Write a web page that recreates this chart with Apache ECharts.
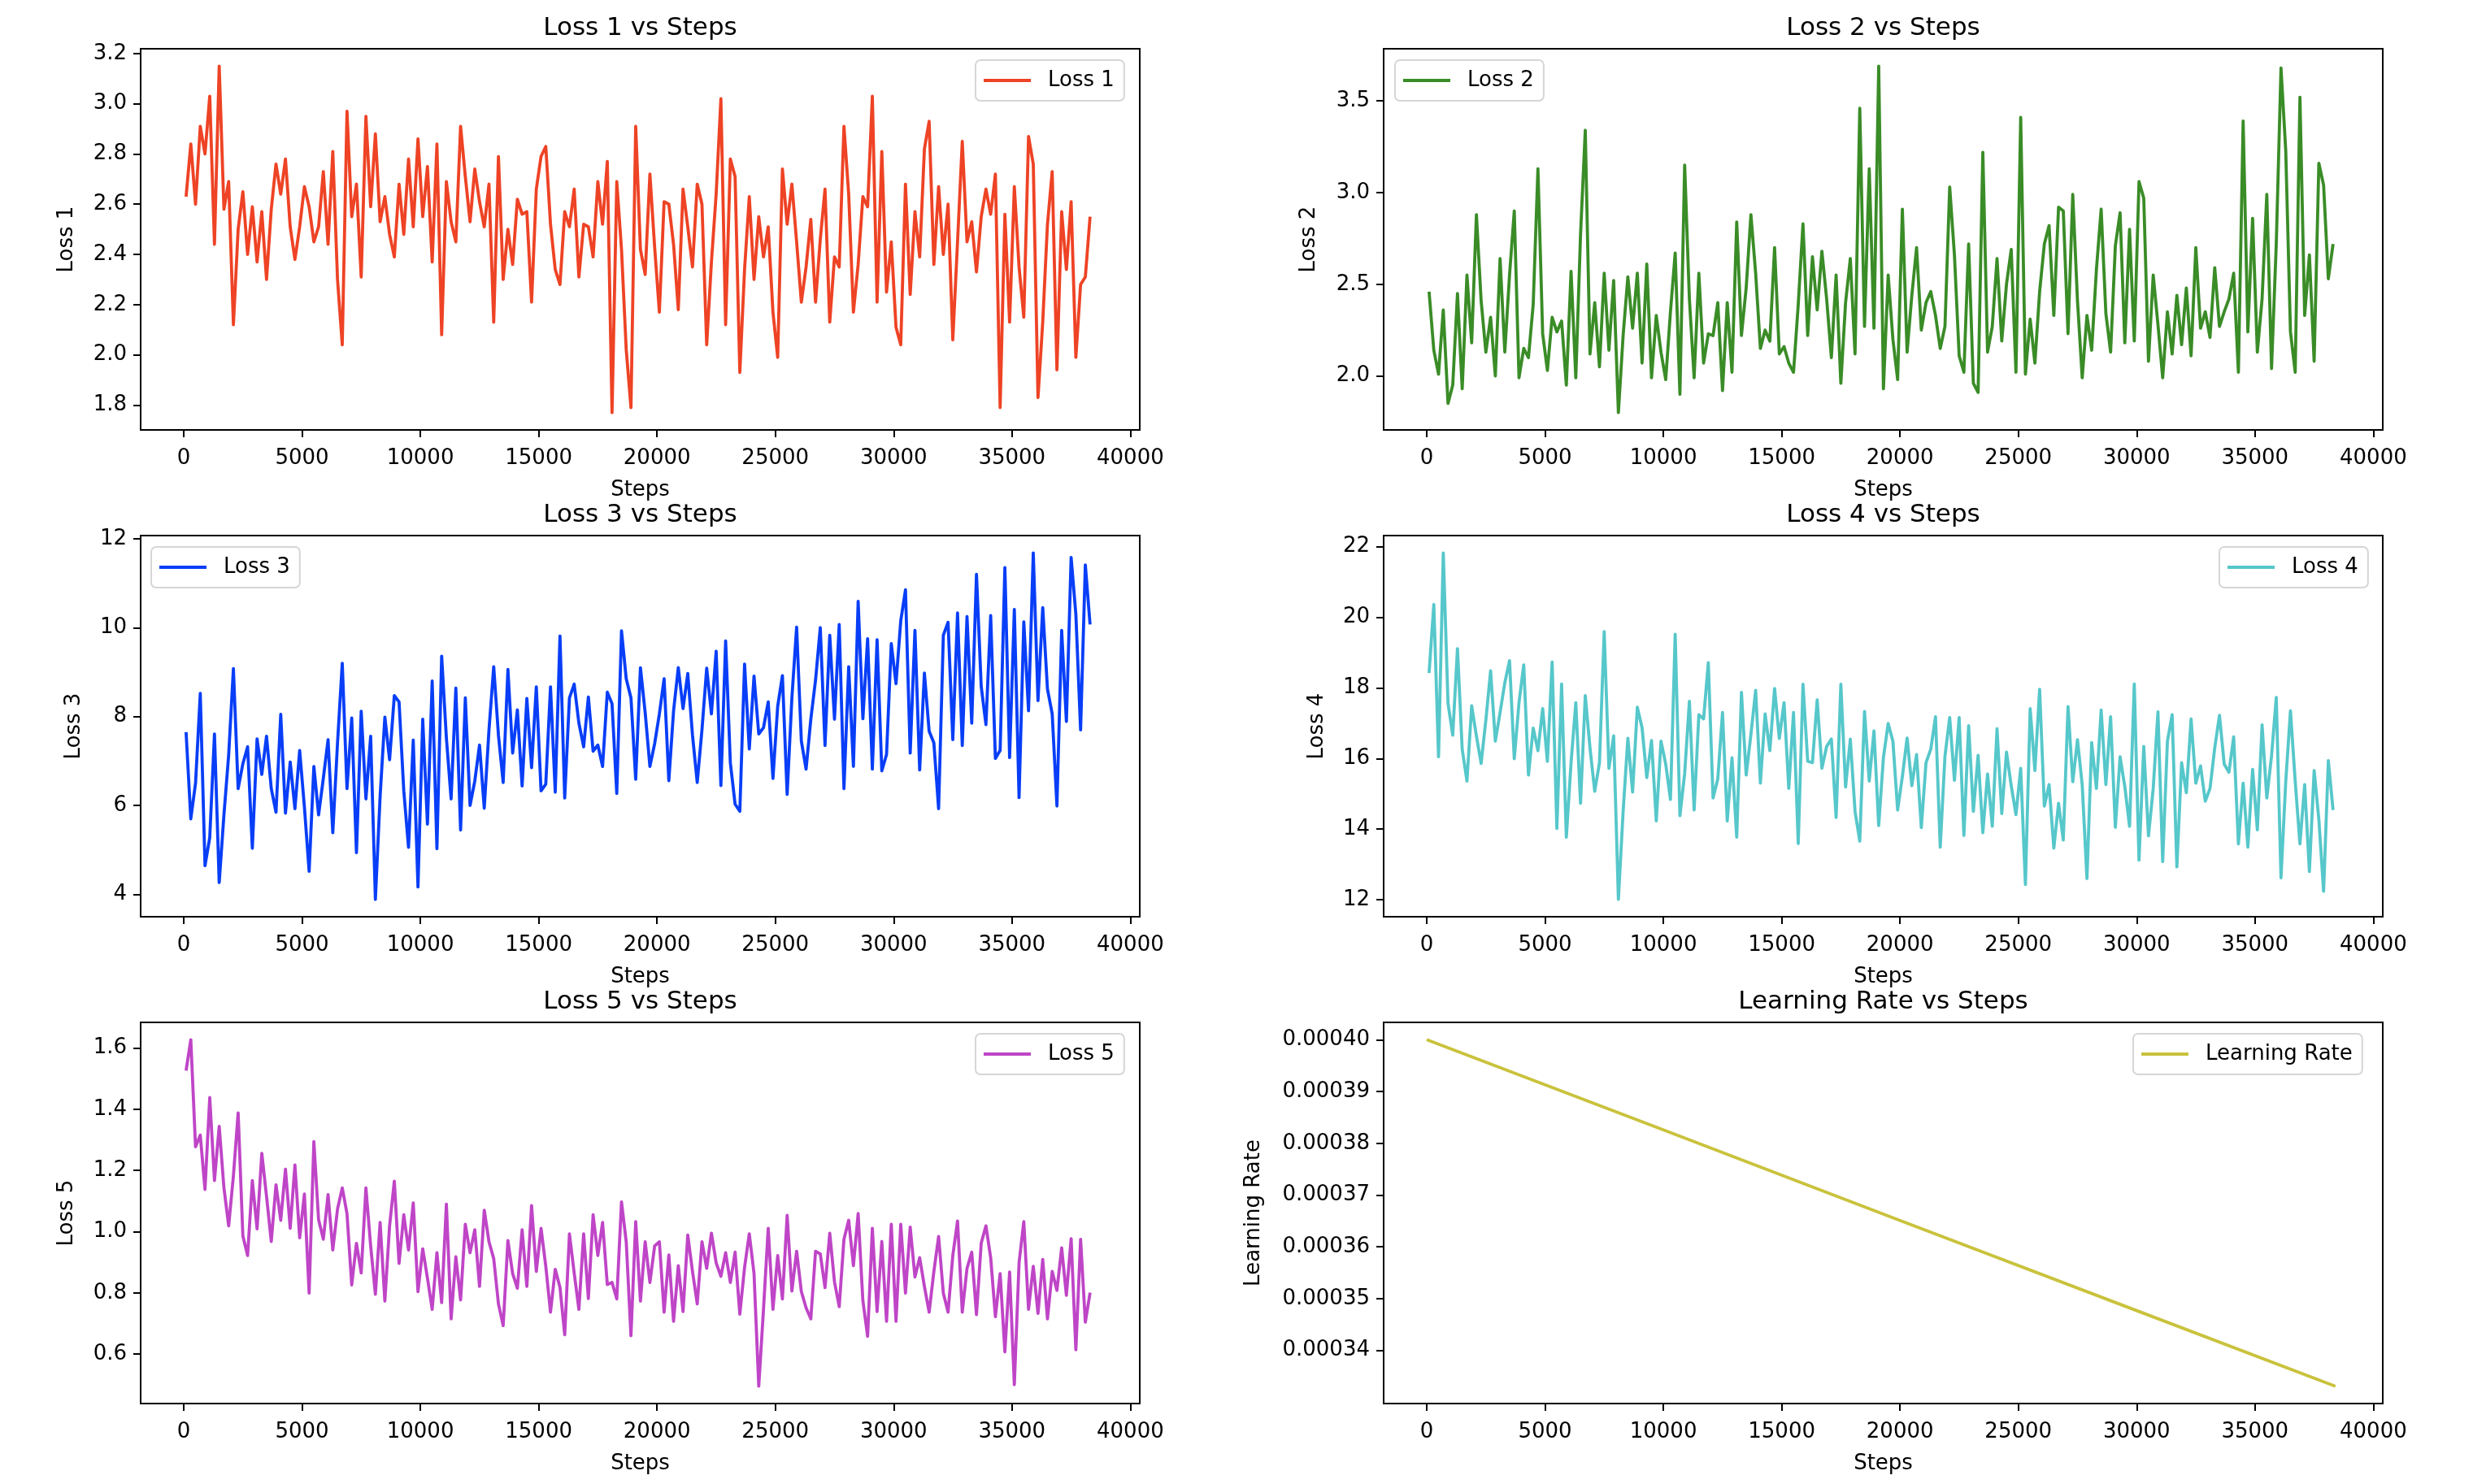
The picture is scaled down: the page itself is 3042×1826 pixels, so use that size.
<!DOCTYPE html>
<html><head><meta charset="utf-8">
<script src="https://cdn.jsdelivr.net/npm/echarts@6/dist/echarts.min.js"></script>
<style>html,body{margin:0;padding:0;background:#fff}#c{width:3042px;height:1826px}</style>
</head><body><div id="c"></div>
<script>
// ---- data (one value every 200 steps) ----
const stepStart = 100, stepEvery = 200;
const loss1 = [
2.63,2.84,2.60,2.91,2.80,3.03,2.44,3.15,2.58,2.69,
2.12,2.50,2.65,2.40,2.59,2.37,2.57,2.30,2.58,2.76,
2.64,2.78,2.51,2.38,2.51,2.67,2.59,2.45,2.51,2.73,
2.44,2.81,2.30,2.04,2.97,2.55,2.68,2.31,2.95,2.59,
2.88,2.53,2.63,2.48,2.39,2.68,2.48,2.78,2.51,2.86,
2.55,2.75,2.37,2.84,2.08,2.69,2.53,2.45,2.91,2.71,
2.53,2.74,2.61,2.51,2.68,2.13,2.79,2.30,2.50,2.36,
2.62,2.56,2.57,2.21,2.66,2.79,2.83,2.52,2.34,2.28,
2.57,2.51,2.66,2.31,2.52,2.51,2.39,2.69,2.52,2.77,
1.77,2.69,2.42,2.02,1.79,2.91,2.42,2.32,2.72,2.43,
2.17,2.61,2.60,2.44,2.18,2.66,2.51,2.35,2.68,2.60,
2.04,2.37,2.64,3.02,2.12,2.78,2.71,1.93,2.34,2.63,
2.30,2.55,2.39,2.51,2.17,1.99,2.74,2.52,2.68,2.45,
2.21,2.35,2.54,2.21,2.46,2.66,2.13,2.39,2.35,2.91,
2.64,2.17,2.36,2.63,2.59,3.03,2.21,2.81,2.25,2.45,
2.11,2.04,2.68,2.24,2.57,2.39,2.82,2.93,2.36,2.67,
2.40,2.60,2.06,2.45,2.85,2.45,2.53,2.33,2.55,2.66,
2.56,2.72,1.79,2.56,2.13,2.67,2.35,2.15,2.87,2.76,
1.83,2.13,2.52,2.73,1.94,2.57,2.34,2.61,1.99,2.28,
2.31,2.55];
const loss2 = [
2.46,2.14,2.01,2.36,1.85,1.95,2.45,1.93,2.55,2.18,
2.88,2.41,2.13,2.32,2.00,2.64,2.13,2.55,2.90,1.99,
2.15,2.10,2.39,3.13,2.23,2.03,2.32,2.24,2.30,1.95,
2.57,1.99,2.77,3.34,2.12,2.40,2.05,2.56,2.14,2.52,
1.80,2.22,2.54,2.26,2.56,2.07,2.61,1.99,2.33,2.13,
1.98,2.35,2.67,1.90,3.15,2.42,1.99,2.56,2.07,2.23,
2.22,2.40,1.92,2.40,2.02,2.84,2.22,2.48,2.88,2.56,
2.15,2.25,2.19,2.70,2.12,2.16,2.07,2.02,2.39,2.83,
2.22,2.65,2.36,2.68,2.42,2.10,2.55,1.96,2.40,2.64,
2.12,3.46,2.27,3.13,2.26,3.69,1.93,2.55,2.20,1.98,
2.91,2.13,2.44,2.70,2.25,2.40,2.46,2.33,2.15,2.27,
3.03,2.66,2.11,2.02,2.72,1.96,1.91,3.22,2.13,2.27,
2.64,2.19,2.50,2.69,2.02,3.41,2.01,2.31,2.07,2.46,
2.72,2.82,2.33,2.92,2.90,2.23,2.99,2.41,1.99,2.33,
2.14,2.58,2.91,2.34,2.13,2.71,2.89,2.18,2.80,2.19,
3.06,2.97,2.08,2.55,2.28,1.99,2.35,2.12,2.44,2.17,
2.48,2.11,2.70,2.26,2.35,2.21,2.59,2.27,2.35,2.42,
2.56,2.02,3.39,2.24,2.86,2.13,2.42,2.99,2.04,2.72,
3.68,3.23,2.24,2.02,3.52,2.33,2.66,2.08,3.16,3.04,
2.53,2.72];
const loss3 = [
7.65,5.70,6.50,8.52,4.65,5.28,7.61,4.27,5.79,7.14,
9.08,6.38,6.94,7.32,5.04,7.50,6.70,7.56,6.38,5.85,
8.05,5.83,6.98,5.93,7.24,5.97,4.52,6.88,5.79,6.61,
7.48,5.39,7.41,9.20,6.38,7.97,4.94,8.12,6.15,7.56,
3.89,6.21,7.99,7.03,8.47,8.33,6.33,5.06,7.47,4.17,
7.94,5.58,8.80,5.03,9.36,7.52,6.15,8.64,5.45,8.42,
6.00,6.55,7.36,5.94,7.70,9.12,7.58,6.52,9.06,7.18,
8.15,6.44,8.41,6.85,8.67,6.33,6.48,8.67,6.30,9.81,
6.17,8.42,8.73,7.85,7.32,8.44,7.22,7.36,6.88,8.55,
8.29,6.27,9.93,8.85,8.42,6.59,9.10,8.09,6.88,7.39,
8.06,8.85,6.56,8.13,9.10,8.18,8.97,7.58,6.52,7.70,
9.09,8.06,9.47,6.45,9.70,6.96,6.03,5.87,9.18,7.27,
8.91,7.61,7.75,8.33,6.61,8.23,8.92,6.25,8.42,10.01,
7.45,6.82,7.94,8.82,10.00,7.35,9.83,7.94,10.07,6.38,
9.12,6.88,10.59,7.95,9.75,6.82,9.73,6.78,7.15,9.64,
8.74,10.15,10.85,7.18,9.94,6.80,8.98,7.67,7.41,5.93,
9.83,10.12,7.48,10.33,7.35,10.25,7.85,11.20,8.68,7.82,
10.27,7.06,7.24,11.35,7.08,10.41,6.18,10.13,8.13,11.68,
8.36,10.45,8.62,8.06,5.99,9.94,7.89,11.58,10.30,7.70,
11.41,10.07];
const loss4 = [
18.42,20.36,16.05,21.82,17.56,16.66,19.11,16.26,15.36,17.49,
16.64,15.86,17.09,18.48,16.49,17.30,18.14,18.77,15.99,17.58,
18.65,15.53,16.86,16.22,17.41,15.92,18.73,14.02,18.11,13.77,
15.88,17.58,14.73,17.78,16.30,15.07,15.88,19.59,15.72,16.64,
12.01,14.50,16.57,15.05,17.45,16.87,15.46,16.51,14.23,16.49,
15.84,14.84,19.52,14.38,15.57,17.62,14.54,17.24,17.12,18.71,
14.88,15.42,17.30,14.23,16.02,13.77,17.87,15.53,16.68,17.93,
15.30,17.26,16.22,17.98,16.57,17.58,15.15,17.30,13.59,18.10,
15.92,15.88,17.66,15.72,16.34,16.55,14.33,18.10,15.19,16.55,
14.50,13.66,17.33,15.36,16.78,14.10,16.03,16.99,16.49,14.54,
15.49,16.58,15.23,16.11,14.04,15.88,16.26,17.18,13.49,16.07,
17.16,15.38,17.16,13.82,16.93,14.50,16.09,13.90,15.56,14.08,
16.84,14.44,16.18,15.23,14.41,15.72,12.43,17.41,15.66,17.96,
14.65,15.26,13.46,14.73,13.69,17.47,15.34,16.53,15.25,12.60,
16.45,15.15,17.37,15.26,17.18,14.05,16.05,15.20,14.08,18.11,
13.12,16.34,13.81,15.15,17.32,13.08,16.49,17.24,12.93,15.88,
15.03,17.12,15.30,15.79,14.79,15.15,16.30,17.22,15.84,15.61,
16.61,13.58,15.30,13.49,15.69,13.98,16.95,14.88,16.07,17.73,
12.62,15.34,17.35,15.36,13.58,15.26,12.80,15.66,14.27,12.24,
15.94,14.54];
const loss5 = [
1.526,1.627,1.277,1.315,1.138,1.438,1.167,1.344,1.143,1.019,
1.182,1.388,0.986,0.922,1.167,1.009,1.256,1.115,0.968,1.153,
1.037,1.204,1.011,1.218,0.980,1.123,0.799,1.294,1.039,0.975,
1.121,0.940,1.074,1.143,1.059,0.826,0.962,0.865,1.143,0.953,
0.795,1.030,0.773,1.019,1.165,0.896,1.055,0.940,1.094,0.804,
0.944,0.848,0.746,0.931,0.768,1.090,0.715,0.918,0.777,1.024,
0.931,1.006,0.821,1.070,0.967,0.912,0.764,0.693,0.971,0.863,
0.815,1.006,0.821,1.085,0.870,1.011,0.887,0.737,0.877,0.818,
0.663,0.993,0.865,0.746,0.993,0.781,1.055,0.922,1.030,0.827,
0.834,0.780,1.097,0.967,0.660,1.033,0.773,0.967,0.834,0.953,
0.967,0.737,0.924,0.707,0.889,0.739,0.989,0.870,0.764,0.967,
0.880,0.995,0.898,0.854,0.931,0.834,0.933,0.730,0.883,0.993,
0.863,0.495,0.746,1.011,0.746,0.922,0.780,1.053,0.806,0.936,
0.804,0.751,0.715,0.936,0.927,0.817,0.995,0.836,0.755,0.975,
1.037,0.889,1.059,0.774,0.658,1.011,0.739,0.968,0.707,1.024,
0.707,1.024,0.799,1.015,0.852,0.915,0.821,0.737,0.870,0.984,
0.799,0.737,0.922,1.035,0.737,0.880,0.933,0.729,0.962,1.019,
0.915,0.722,0.863,0.607,0.868,0.500,0.898,1.033,0.746,0.887,
0.733,0.909,0.715,0.870,0.808,0.947,0.792,0.977,0.614,0.975,
0.704,0.801];
const lrSteps  = [0, 10000, 20000, 30000, 38400];
const lrValues = [0.000400, 0.0003826, 0.0003651, 0.0003477, 0.0003331];

const xTicks     = [0,5000,10000,15000,20000,25000,30000,35000,40000];
const loss1Ticks = [1.8,2.0,2.2,2.4,2.6,2.8,3.0,3.2];
const loss2Ticks = [2.0,2.5,3.0,3.5];
const loss3Ticks = [4,6,8,10,12];
const loss4Ticks = [12,14,16,18,20,22];
const loss5Ticks = [0.6,0.8,1.0,1.2,1.4,1.6];
const lrTicks    = [0.00034,0.00035,0.00036,0.00037,0.00038,0.00039,0.00040];

// ---- layout / style ----
const FONT = 'DejaVu Sans';
const FS = 26;
const GW = 1229, GH = 469;
const colLeft = [173, 1702];
const rowTop = [60, 659, 1258];
const XMIN = -1820, XMAX = 40400;

function xyPairs(xs, ys){ return ys.map((v,i)=>[xs[i], v]); }
const steps = loss1.map((_,i)=>stepStart + stepEvery*i);

const panels = [
  {name:'Loss 1', title:'Loss 1 vs Steps', ylab:'Loss 1', data:xyPairs(steps,loss1), color:'#ee4325', ticks:loss1Ticks, dec:1, c:0, r:0, lg:{left:1200}, yGap:78},
  {name:'Loss 2', title:'Loss 2 vs Steps', ylab:'Loss 2', data:xyPairs(steps,loss2), color:'#3a8c27', ticks:loss2Ticks, dec:1, c:1, r:0, lg:{left:1716}, yGap:79},
  {name:'Loss 3', title:'Loss 3 vs Steps', ylab:'Loss 3', data:xyPairs(steps,loss3), color:'#083ef7', ticks:loss3Ticks, dec:0, c:0, r:1, lg:{left:186}, yGap:69},
  {name:'Loss 4', title:'Loss 4 vs Steps', ylab:'Loss 4', data:xyPairs(steps,loss4), color:'#56c7ca', ticks:loss4Ticks, dec:0, c:1, r:1, lg:{left:2730}, yGap:69},
  {name:'Loss 5', title:'Loss 5 vs Steps', ylab:'Loss 5', data:xyPairs(steps,loss5), color:'#bf45c7', ticks:loss5Ticks, dec:1, c:0, r:2, lg:{left:1200}, yGap:78},
  {name:'Learning Rate', title:'Learning Rate vs Steps', ylab:'Learning Rate', data:xyPairs(lrSteps,lrValues), color:'#c9c23c', ticks:lrTicks, dec:5, c:1, r:2, lg:{left:2624}, yGap:147}
];

const option = {
  backgroundColor:'#ffffff',
  animation:false,
  textStyle:{fontFamily:FONT},
  grid:[], xAxis:[], yAxis:[], series:[], legend:[], graphic:[]
};

panels.forEach((p,i)=>{
  const left = colLeft[p.c], top = rowTop[p.r];
  const vals = p.data.map(d=>d[1]);
  const mn = Math.min(...vals), mx = Math.max(...vals), pad = (mx-mn)*0.05;
  option.grid.push({left:left, top:top, width:GW, height:GH, show:true, borderColor:'#000', borderWidth:2, backgroundColor:'rgba(0,0,0,0)'});
  option.xAxis.push({
    type:'value', gridIndex:i, min:XMIN, max:XMAX,
    name:'Steps', nameLocation:'middle', nameGap:61,
    nameTextStyle:{fontSize:FS, color:'#000', fontFamily:FONT},
    axisLine:{show:true, onZero:false, lineStyle:{color:'#000', width:2}},
    axisTick:{show:true, length:9, lineStyle:{color:'#000', width:2}, customValues:xTicks},
    axisLabel:{show:true, fontSize:FS, color:'#000', fontFamily:FONT, margin:22, customValues:xTicks, formatter:v=>String(v)},
    splitLine:{show:false}
  });
  option.yAxis.push({
    type:'value', gridIndex:i, min:mn-pad, max:mx+pad,
    name:p.ylab, nameLocation:'middle', nameGap:p.yGap, nameRotate:90,
    nameTextStyle:{fontSize:FS, color:'#000', fontFamily:FONT},
    axisLine:{show:true, onZero:false, lineStyle:{color:'#000', width:2}},
    axisTick:{show:true, length:9, lineStyle:{color:'#000', width:2}, customValues:p.ticks},
    axisLabel:{show:true, fontSize:FS, color:'#000', fontFamily:FONT, margin:17, customValues:p.ticks, formatter:v=>Number(v).toFixed(p.dec)},
    splitLine:{show:false}
  });
  option.series.push({
    type:'line', name:p.name, xAxisIndex:i, yAxisIndex:i, data:p.data,
    showSymbol:false, symbol:'none', smooth:false,
    lineStyle:{color:p.color, width:3.8, join:'round', cap:'butt'},
    itemStyle:{color:p.color}, emphasis:{disabled:true}, silent:true
  });
  option.legend.push({
    data:[p.name], left:p.lg.left, top:top+14, orient:'horizontal',
    icon:'rect', itemWidth:58, itemHeight:4,
    padding:[12,12,12,10], backgroundColor:'#ffffff',
    borderColor:'#d6d6d6', borderWidth:2, borderRadius:6,
    textStyle:{fontSize:FS, color:'#000', fontFamily:FONT, padding:[0,0,0,16]},
    selectedMode:false
  });
  option.graphic.push({
    type:'text', x:left+GW/2, y:top-25, silent:true,
    style:{text:p.title, font:'31px "DejaVu Sans"', fill:'#000', align:'center', verticalAlign:'middle', textAlign:'center', textVerticalAlign:'middle'}
  });
});

const chart = echarts.init(document.getElementById('c'), null, {renderer:'canvas', width:3042, height:1826});
chart.setOption(option);
</script>
</body></html>
